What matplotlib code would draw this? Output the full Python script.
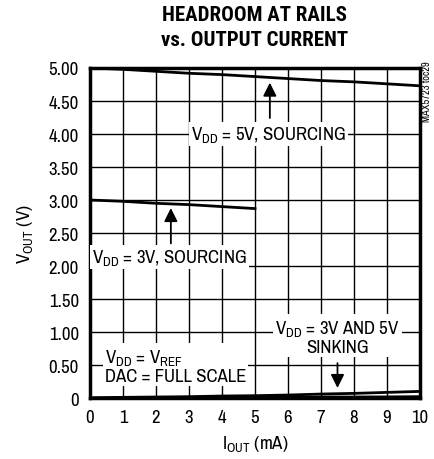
import matplotlib
matplotlib.use("Agg")
import matplotlib.pyplot as plt

body = ['Archivo Narrow', 'Roboto Condensed', 'DejaVu Sans']
plt.rcParams['font.family'] = body
plt.rcParams['mathtext.fontset'] = 'custom'
plt.rcParams['mathtext.rm'] = 'Archivo Narrow'
plt.rcParams['mathtext.it'] = 'Archivo Narrow'
plt.rcParams['mathtext.default'] = 'rm'

# data
i_5v = [0, 1, 2, 3, 4, 5, 6, 7, 8, 9, 10]
v_5v_src = [5.00, 4.98, 4.95, 4.92, 4.90, 4.87, 4.84, 4.81, 4.79, 4.76, 4.73]
i_3v = [0, 1, 2, 3, 4, 5]
v_3v_src = [3.00, 2.98, 2.95, 2.93, 2.90, 2.87]
i_sink = [0, 1, 2, 3, 4, 5, 6, 7, 8, 9, 10]
v_sink_a = [0.00, 0.01, 0.015, 0.02, 0.03, 0.035, 0.045, 0.06, 0.07, 0.085, 0.10]
v_sink_b = [0.00, 0.005, 0.008, 0.01, 0.01, 0.012, 0.013, 0.015, 0.015, 0.017, 0.02]

x_ticks = list(range(0, 11))
y_ticks = [0, 0.5, 1.0, 1.5, 2.0, 2.5, 3.0, 3.5, 4.0, 4.5, 5.0]
y_labels = ["0", "0.50", "1.00", "1.50", "2.00", "2.50", "3.00", "3.50", "4.00", "4.50", "5.00"]

fig = plt.figure(figsize=(4.34, 4.6), dpi=100)
ax = fig.add_axes([0.2074, 0.1326, 0.7603, 0.7174])

ax.plot(i_5v, v_5v_src, color='black', lw=2, zorder=3)
ax.plot(i_3v, v_3v_src, color='black', lw=2, zorder=3)
ax.plot(i_sink, v_sink_a, color='black', lw=2, zorder=3)
ax.plot(i_sink, v_sink_b, color='black', lw=2, zorder=3)

ax.set_xlim(0, 10)
ax.set_ylim(0, 5)
ax.set_xticks(x_ticks)
ax.set_yticks(y_ticks)
ax.set_yticklabels(y_labels)
ax.tick_params(axis='both', length=0, labelsize=13.5, pad=8)
ax.grid(True, color='black', lw=1)
for s in ax.spines.values():
    s.set_linewidth(2.5)

ax.set_xlabel("I$_{\\mathrm{OUT}}$ (mA)", fontsize=13.5, labelpad=6)
ax.set_ylabel("V$_{\\mathrm{OUT}}$ (V)", fontsize=13.5, labelpad=10)

# title is centred over the plot area, not the figure
title_font = ['Roboto Condensed', 'Oswald', 'Archivo Narrow', 'DejaVu Sans']
fig.text(0.587, 0.966, "HEADROOM AT RAILS", ha='center', va='center',
         fontsize=15, fontweight='black', family=title_font)
fig.text(0.587, 0.913, "vs. OUTPUT CURRENT", ha='center', va='center',
         fontsize=15, fontweight='black', family=title_font)
fig.text(0.985, 0.80, "MAX5723 toc29", rotation=90, ha='center', va='center', fontsize=7.5)

box = dict(facecolor='white', edgecolor='none', pad=1.5)
arrow = dict(arrowstyle='-|>', color='black', lw=1.3, mutation_scale=20)
ax.text(5.4, 4.0, "V$_{\\mathrm{DD}}$ = 5V, SOURCING", ha='center', va='center',
        fontsize=13.5, bbox=box, zorder=4)
ax.annotate("", xy=(5.45, 4.82), xytext=(5.45, 4.2), arrowprops=arrow, zorder=4)
ax.text(2.4, 2.13, "V$_{\\mathrm{DD}}$ = 3V, SOURCING", ha='center', va='center',
        fontsize=13.5, bbox=box, zorder=4)
ax.annotate("", xy=(2.45, 2.92), xytext=(2.45, 2.3), arrowprops=arrow, zorder=4)
ax.text(7.5, 0.93, "V$_{\\mathrm{DD}}$ = 3V AND 5V\nSINKING", ha='center', va='center',
        fontsize=13.5, bbox=box, zorder=4, linespacing=1.1)
ax.annotate("", xy=(7.5, 0.11), xytext=(7.5, 0.57), arrowprops=arrow, zorder=4)
ax.text(0.45, 0.49, "V$_{\\mathrm{DD}}$ = V$_{\\mathrm{REF}}$\nDAC = FULL SCALE", ha='left', va='center',
        fontsize=13.5, bbox=box, zorder=4, linespacing=1.1)

fig.savefig("out.png", dpi=100)
